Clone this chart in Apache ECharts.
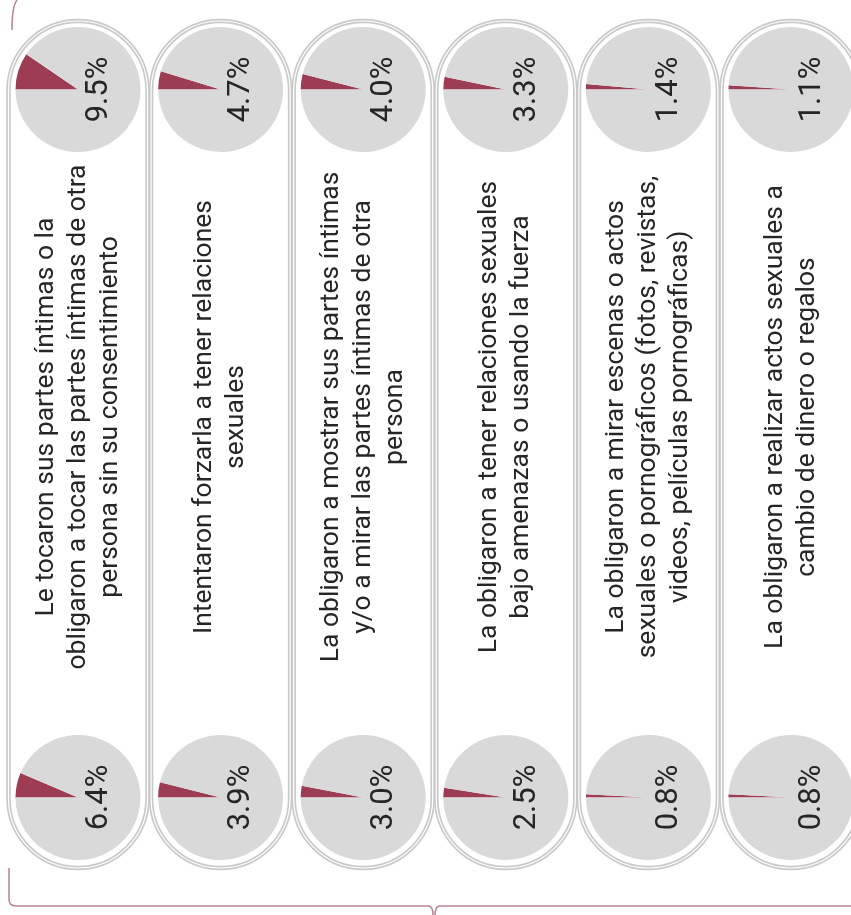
<!DOCTYPE html>
<html>
<head>
<meta charset="utf-8">
<script src="https://cdn.jsdelivr.net/npm/echarts@6/dist/echarts.min.js"></script>
<style>
html,body{margin:0;padding:0;background:#fff;}
#chart{width:851px;height:915px;}
</style>
</head>
<body>
<div id="chart"></div>
<script>
// ---- data ----
var categories = [
  "Le tocaron sus partes íntimas o la\nobligaron a tocar las partes íntimas de otra\npersona sin su consentimiento",
  "Intentaron forzarla a tener relaciones\nsexuales",
  "La obligaron a mostrar sus partes íntimas\ny/o a mirar las partes íntimas de otra\npersona",
  "La obligaron a tener relaciones sexuales\nbajo amenazas o usando la fuerza",
  "La obligaron a mirar escenas o actos\nsexuales o pornográficos (fotos, revistas,\nvideos, películas pornográficas)",
  "La obligaron a realizar actos sexuales a\ncambio de dinero o regalos"
];
var topValues = [9.5, 4.7, 4.0, 3.3, 1.4, 1.1];
var bottomValues = [6.4, 3.9, 3.0, 2.5, 0.8, 0.8];

// ---- layout ----
var chart = echarts.init(document.getElementById('chart'), null, {renderer: 'canvas'});
var MAROON = '#9C3D54';
var GRAY = '#D9D9D9';
var LINE = '#B98290';
var colX0 = 78, pitch = 142.6, pillW = 139;
var pillTop = 21, pillBottom = 868;
var pieR = 62.5;
var topCy = pillTop + pillW / 2 - 1, botCy = pillBottom - pillW / 2 - 1;
var textCy = 417;
var FONT = 'Roboto, "Liberation Sans", Arial, sans-serif';

var series = [];
var graphics = [];

categories.forEach(function (cat, i) {
  var cx = colX0 + i * pitch;
  var rectShape = {x: cx - pillW / 2, y: pillTop, width: pillW, height: pillBottom - pillTop, r: pillW / 2};
  graphics.push({type: 'rect', z: 0, silent: true, shape: rectShape,
    style: {fill: '#fff', stroke: '#C9C9C9', lineWidth: 4.5}});
  graphics.push({type: 'rect', z: 1, silent: true, shape: rectShape,
    style: {fill: 'rgba(0,0,0,0)', stroke: '#ffffff', lineWidth: 1.2}});
  graphics.push({type: 'text', z: 20, silent: true, x: cx, y: textCy, rotation: Math.PI / 2,
    style: {text: cat, font: '26.5px ' + FONT, fill: '#262626', align: 'center',
      verticalAlign: 'middle', lineHeight: 32}});

  [[topValues[i], topCy], [bottomValues[i], botCy]].forEach(function (pv) {
    var v = pv[0], cy = pv[1];
    series.push({
      type: 'pie', silent: true, z: 5,
      center: [cx, cy], radius: pieR,
      startAngle: 180, clockwise: true,
      label: {show: false}, labelLine: {show: false},
      emphasis: {disabled: true},
      animation: false,
      data: [
        {value: v, itemStyle: {color: MAROON}},
        {value: 100 - v, itemStyle: {color: GRAY}}
      ]
    });
    graphics.push({type: 'text', z: 20, silent: true, x: cx + 21, y: cy, rotation: Math.PI / 2,
      style: {text: v.toFixed(1) + '%', font: '31px ' + FONT, fill: '#262626',
        align: 'center', verticalAlign: 'middle'}});
  });
});

// bracket lines
var ls = {stroke: LINE, lineWidth: 1.5, fill: 'rgba(0,0,0,0)'};
graphics.push({type: 'polyline', z: 2, silent: true, shape: {points: [[9, 868], [9, 899]]}, style: ls});
graphics.push({type: 'bezierCurve', z: 2, silent: true,
  shape: {x1: 9, y1: 899, x2: 16, y2: 906, cpx1: 9, cpy1: 906}, style: ls});
graphics.push({type: 'polyline', z: 2, silent: true, shape: {points: [[16, 906], [428, 906]]}, style: ls});
graphics.push({type: 'bezierCurve', z: 2, silent: true,
  shape: {x1: 428, y1: 906, x2: 433, y2: 915, cpx1: 433, cpy1: 906}, style: ls});
graphics.push({type: 'bezierCurve', z: 2, silent: true,
  shape: {x1: 435, y1: 915, x2: 440, y2: 906, cpx1: 435, cpy1: 906}, style: ls});
graphics.push({type: 'polyline', z: 2, silent: true, shape: {points: [[440, 906], [851, 906]]}, style: ls});
graphics.push({type: 'bezierCurve', z: 2, silent: true,
  shape: {x1: 17, y1: 0, x2: 12, y2: 30, cpx1: 12, cpy1: 6}, style: ls});

chart.setOption({
  backgroundColor: '#ffffff',
  animation: false,
  series: series,
  graphic: {elements: graphics}
});
</script>
</body>
</html>
